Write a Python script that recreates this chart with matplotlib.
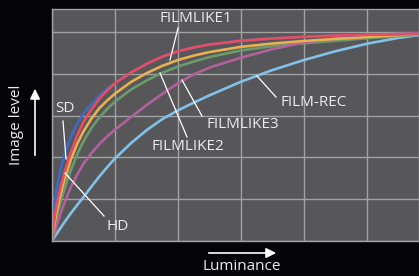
import numpy as np
import matplotlib
matplotlib.use("Agg")
import matplotlib.pyplot as plt
from matplotlib.lines import Line2D

# --- DATA (x in grid units, y as normalised image level) ---
lum = [0, 0.02, 0.05, 0.1, 0.15, 0.2, 0.3, 0.4, 0.5, 0.625, 0.75, 0.875,
       1.0, 1.25, 1.5, 1.75, 2.0, 2.25, 2.5, 3.0, 3.5, 4.0, 4.5, 5.0, 5.5, 5.83]

film_rec = [0, 0.01, 0.024, 0.047, 0.069, 0.091, 0.133, 0.172, 0.21, 0.26, 0.308, 0.353,
            0.395, 0.467, 0.53, 0.583, 0.625, 0.662, 0.697, 0.762, 0.818, 0.866, 0.908, 0.944, 0.972, 0.985]
filmlike3 = [0, 0.02, 0.05, 0.098, 0.143, 0.185, 0.258, 0.318, 0.37, 0.42, 0.463, 0.50,
             0.533, 0.592, 0.65, 0.704, 0.755, 0.797, 0.83, 0.877, 0.918, 0.95, 0.968, 0.979, 0.987, 0.991]
filmlike2 = [0, 0.035, 0.08, 0.145, 0.20, 0.25, 0.34, 0.415, 0.477, 0.54, 0.59, 0.632,
             0.667, 0.724, 0.768, 0.805, 0.835, 0.859, 0.88, 0.912, 0.932, 0.946, 0.958, 0.97, 0.981, 0.987]
filmlike1 = [0, 0.045, 0.10, 0.175, 0.24, 0.295, 0.39, 0.465, 0.525, 0.585, 0.635, 0.672,
             0.705, 0.76, 0.803, 0.838, 0.866, 0.887, 0.904, 0.929, 0.945, 0.957, 0.967, 0.976, 0.985, 0.99]
sd = [0, 0.11, 0.20, 0.29, 0.36, 0.415, 0.50, 0.56, 0.61, 0.655, 0.695, 0.728,
      0.757, 0.805, 0.847, 0.882, 0.908, 0.926, 0.94, 0.958, 0.969, 0.977, 0.983, 0.987, 0.99, 0.992]
hd = [0, 0.065, 0.13, 0.21, 0.275, 0.33, 0.425, 0.505, 0.57, 0.63, 0.68, 0.72,
      0.755, 0.805, 0.847, 0.882, 0.908, 0.926, 0.94, 0.958, 0.969, 0.977, 0.983, 0.987, 0.99, 0.992]

series = [
    ("FILM-REC", film_rec, "#82c1ea"),
    ("FILMLIKE2", filmlike2, "#6b9a6c"),
    ("FILMLIKE3", filmlike3, "#b2619b"),
    ("FILMLIKE1", filmlike1, "#e8b150"),
    ("SD", sd, "#3a6cc2"),
    ("HD", hd, "#ea4c64"),
]

# label text position (px), pointer start (px), pointer end (px)
labels = [
    ("FILMLIKE1", (159, 18), (178, 28), (170, 60)),
    ("FILM-REC", (280, 103), (276, 97), (257, 76)),
    ("FILMLIKE3", (206, 124), (202, 116), (182, 80)),
    ("FILMLIKE2", (151, 147), (187, 137), (160, 73)),
    ("SD", (55, 108), (63, 121), (66, 159)),
    ("HD", (107, 226), (104, 216), (65, 173)),
]

W, H = 419, 276
BG = "#040407"
TXT = "#ececec"
FONT = ["Open Sans", "Liberation Sans", "DejaVu Sans"]
FS = 11


def px(x, y):
    return (x / W, 1 - y / H)


fig = plt.figure(figsize=(W / 100, H / 100), dpi=100, facecolor=BG)
ax = fig.add_axes([52 / W, (H - 241) / H, (W - 52) / W, (241 - 9) / H])
ax.set_facecolor("#57575a")

for name, ys, col in series:
    ax.plot(lum, ys, color=col, lw=1.9, solid_capstyle="round", solid_joinstyle="round")

ax.set_xlim(0, (W - 52) / 63)
ax.set_ylim(0, (241 - 9) / 209)
ax.set_xticks(range(0, 6))
ax.set_yticks([0, 0.2, 0.4, 0.6, 0.8, 1.0])
ax.grid(color="#a2a2a2", lw=1.0)
ax.set_axisbelow(True)
ax.tick_params(length=0, labelbottom=False, labelleft=False)
for sp in ax.spines.values():
    sp.set_color("#a2a2a2")
    sp.set_linewidth(1.0)

# callout labels
for text, tpos, p0, p1 in labels:
    fig.text(*px(*tpos), text, color=TXT, fontsize=FS, family=FONT,
             ha="left", va="center")
    fig.add_artist(Line2D([p0[0] / W, p1[0] / W], [1 - p0[1] / H, 1 - p1[1] / H],
                          color="white", lw=0.9))

# axis titles with arrows
fig.text(*px(16, 125), "Image level", color=TXT, fontsize=FS, family=FONT,
         rotation=90, ha="center", va="center")
fig.add_artist(plt.Annotation("", xy=px(35, 86), xytext=px(35, 158),
                              xycoords="figure fraction",
                              textcoords="figure fraction",
                              arrowprops=dict(arrowstyle="-|>,head_width=0.3,head_length=0.6",
                                              color="white", lw=1.2)))
fig.text(*px(242, 266), "Luminance", color=TXT, fontsize=FS, family=FONT,
         ha="center", va="center")
fig.add_artist(plt.Annotation("", xy=px(279, 253), xytext=px(206, 253),
                              xycoords="figure fraction",
                              textcoords="figure fraction",
                              arrowprops=dict(arrowstyle="-|>,head_width=0.3,head_length=0.6",
                                              color="white", lw=1.2)))

fig.savefig("out.png", dpi=100, facecolor=BG)
